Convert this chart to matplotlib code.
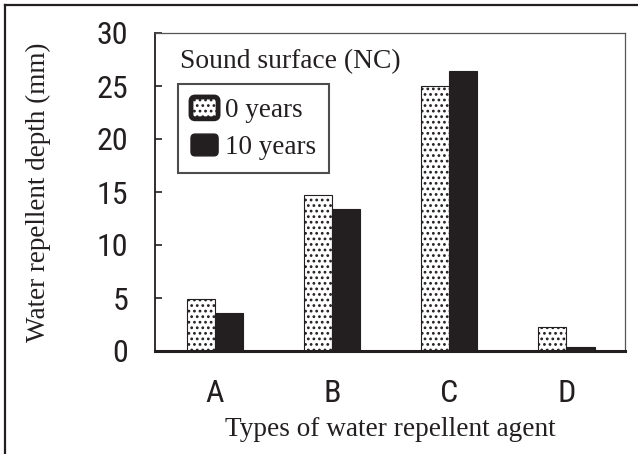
import matplotlib
matplotlib.use("Agg")
import matplotlib.pyplot as plt
import numpy as np
from matplotlib.patches import Patch, FancyBboxPatch
from matplotlib.legend_handler import HandlerPatch
from matplotlib.lines import Line2D

categories = ["A", "B", "C", "D"]
years0 = [4.9, 14.7, 25.0, 2.3]
years10 = [3.6, 13.4, 26.4, 0.4]
series_labels = ["0 years", "10 years"]
yticks = [0, 5, 10, 15, 20, 25, 30]

DARK = "#231f20"
plt.rcParams["hatch.linewidth"] = 1.2
narrow = ["Liberation Sans Narrow", "Roboto Condensed", "Liberation Sans", "DejaVu Sans"]
serif = ["Liberation Serif", "DejaVu Serif"]

fig = plt.figure(figsize=(6.38, 4.54), dpi=100)
ax = fig.add_axes([155/638, 1-351/454, 470/638, 318/454])

x = np.arange(len(categories))
w = 0.24
ax.bar(x - w/2, years0, width=w, facecolor="white", edgecolor=DARK, hatch="...",
       linewidth=0.8, label=series_labels[0], zorder=2)
ax.bar(x + w/2, years10, width=w, facecolor=DARK, edgecolor=DARK,
       linewidth=0.8, label=series_labels[1], zorder=2)

ax.set_xlim(-0.513, 3.5)
ax.set_ylim(0, 30)
ax.set_yticks(yticks)
ax.set_xticks(x)
ax.set_xticklabels(categories, fontfamily=narrow, fontsize=23)
ax.set_yticklabels([str(t) for t in yticks], fontfamily=narrow, fontsize=23)
ax.tick_params(axis="y", direction="in", length=5, width=1.2, pad=19, colors=DARK)
ax.tick_params(axis="x", length=0, pad=20.5, colors=DARK)

for s in ["top", "right"]:
    ax.spines[s].set_color("#555555")
    ax.spines[s].set_linewidth(0.9)
ax.spines["left"].set_linewidth(1.3)
ax.spines["left"].set_color(DARK)
ax.spines["bottom"].set_linewidth(2.2)
ax.spines["bottom"].set_color(DARK)

ax.set_xlabel("Types of water repellent agent", fontfamily=serif, fontsize=19.6,
              labelpad=6.5, color=DARK)
ax.set_ylabel("Water repellent depth (mm)", fontfamily=serif, fontsize=19.5,
              labelpad=33, color=DARK)

ax.text((180-155)/470, (351-62)/318, "Sound surface (NC)", transform=ax.transAxes,
        fontfamily=serif, fontsize=19.8, ha="left", va="center", color=DARK)

def rounded(legend, orig_handle, xdescent, ydescent, width, height, fontsize):
    return FancyBboxPatch((-xdescent, -ydescent), width, height,
                          boxstyle="round,pad=0,rounding_size=3")

h0 = Patch(facecolor="white", edgecolor=DARK, hatch="...", linewidth=3.5)
h1 = Patch(facecolor=DARK, edgecolor=DARK, linewidth=1)
leg = ax.legend([h0, h1], series_labels, loc="upper left",
                bbox_to_anchor=((178-155)/470, (351-84)/318), borderaxespad=0,
                prop={"family": serif, "size": 19.5}, frameon=True, fancybox=False,
                handlelength=1.0, handleheight=0.86, handletextpad=0.25,
                labelspacing=0.4, borderpad=0.48,
                handler_map={Patch: HandlerPatch(patch_func=rounded)})
leg.get_frame().set_edgecolor(DARK)
leg.get_frame().set_linewidth(1.5)
for t in leg.get_texts():
    t.set_color(DARK)

# outer frame
fig.add_artist(Line2D([5/638, 5/638], [0, 1-5/454], transform=fig.transFigure,
                      color=DARK, linewidth=1.6))
fig.add_artist(Line2D([5/638, 1], [1-5/454, 1-5/454], transform=fig.transFigure,
                      color=DARK, linewidth=1.6))

fig.savefig("out.png", dpi=100)
